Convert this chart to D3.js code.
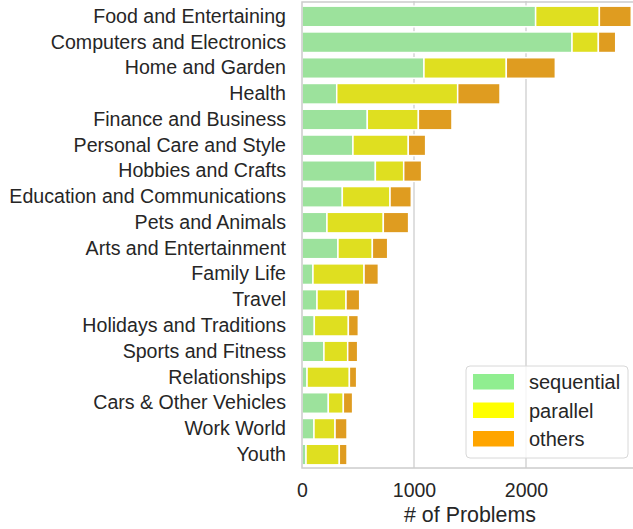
<!DOCTYPE html>
<html>
<head>
<meta charset="utf-8">
<script src="https://cdn.jsdelivr.net/npm/d3@7"></script>
<style>
  body { margin: 0; background: #fff; }
  text { font-family: "Liberation Sans", Arial, sans-serif; fill: #262626; }
</style>
</head>
<body>
<div id="plot"></div>
<script>
let categories = ["Food and Entertaining", "Computers and Electronics", "Home and Garden", "Health",
  "Finance and Business", "Personal Care and Style", "Hobbies and Crafts", "Education and Communications",
  "Pets and Animals", "Arts and Entertainment", "Family Life", "Travel", "Holidays and Traditions",
  "Sports and Fitness", "Relationships", "Cars & Other Vehicles", "Work World", "Youth"];
let sequential = [2086, 2411, 1089, 310, 583, 455, 655, 360, 223, 321, 98, 134, 110, 196, 45, 235, 107, 36];
let parallel   = [569, 235, 735, 1080, 456, 494, 253, 426, 503, 307, 456, 259, 304, 212, 378, 134, 188, 297];
let others     = [285, 155, 438, 378, 300, 155, 160, 190, 226, 137, 128, 122, 89, 89, 65, 83, 107, 69];
let seriesNames = ["sequential", "parallel", "others"];
let xTicks = [0, 1000, 2000];

let svgWidth = 633, svgHeight = 529;
let margin = { top: 1, left: 302 };
let plotRight = 638, plotBottom = 468;

let barColors = { sequential: "#9ce29c", parallel: "#dfdf20", others: "#df9c20" };
let legendColors = { sequential: "#90ee90", parallel: "#ffff00", others: "#ffa500" };

let rows = categories.map((c, i) => ({
  cat: c, sequential: sequential[i], parallel: parallel[i], others: others[i]
}));
let stacked = d3.stack().keys(seriesNames)(rows);

let x = d3.scaleLinear().domain([0, 3000]).range([margin.left, plotRight]);
let y = d3.scaleBand().domain(categories).range([margin.top, plotBottom + 2]).padding(0.2);

let svg = d3.select("#plot").append("svg")
  .attr("width", svgWidth).attr("height", svgHeight);

// grid
svg.append("g").selectAll("line").data(xTicks.slice(1)).enter().append("line")
  .attr("x1", d => x(d)).attr("x2", d => x(d))
  .attr("y1", margin.top).attr("y2", plotBottom)
  .attr("stroke", "#cccccc").attr("stroke-width", 1.25);

// bars
svg.append("g").selectAll("g").data(stacked).enter().append("g")
  .attr("fill", d => barColors[d.key])
  .selectAll("rect").data(d => d).enter().append("rect")
    .attr("x", d => x(d[0]))
    .attr("y", d => y(d.data.cat))
    .attr("width", d => x(d[1]) - x(d[0]))
    .attr("height", y.bandwidth())
    .attr("stroke", "#fff").attr("stroke-width", 1.5);

// frame
svg.append("rect")
  .attr("x", margin.left).attr("y", margin.top + 1)
  .attr("width", plotRight - margin.left).attr("height", plotBottom - margin.top - 1)
  .attr("fill", "none").attr("stroke", "#cccccc").attr("stroke-width", 1.5);

// axes
let yAxis = svg.append("g").attr("transform", `translate(${margin.left},0)`)
  .call(d3.axisLeft(y).tickSize(0).tickPadding(16));
yAxis.select(".domain").remove();
yAxis.selectAll("text").attr("font-size", "19.6px").attr("fill", "#262626")
  .style("font-family", "'Liberation Sans', Arial, sans-serif");

let xAxis = svg.append("g").attr("transform", `translate(0,${plotBottom})`)
  .call(d3.axisBottom(x).tickValues(xTicks).tickSize(0).tickPadding(15).tickFormat(d3.format("d")));
xAxis.select(".domain").remove();
xAxis.selectAll("text").attr("font-size", "19.5px").attr("fill", "#262626")
  .style("font-family", "'Liberation Sans', Arial, sans-serif");

svg.append("text")
  .attr("x", (margin.left + plotRight) / 2).attr("y", 522)
  .attr("text-anchor", "middle").attr("font-size", "21.4px")
  .text("# of Problems");

// legend
let lg = svg.append("g").attr("transform", "translate(466,366)");
lg.append("rect").attr("width", 162).attr("height", 92).attr("rx", 4)
  .attr("fill", "#fff").attr("fill-opacity", 0.8)
  .attr("stroke", "#d8d8d8").attr("stroke-width", 1);
seriesNames.forEach((s, i) => {
  lg.append("rect").attr("x", 7).attr("y", 8 + i * 28.5)
    .attr("width", 41).attr("height", 15.5).attr("fill", legendColors[s]);
  lg.append("text").attr("x", 63).attr("y", 16 + i * 28.5)
    .attr("dy", "0.35em").attr("font-size", "20px").text(s);
});
</script>
</body>
</html>
